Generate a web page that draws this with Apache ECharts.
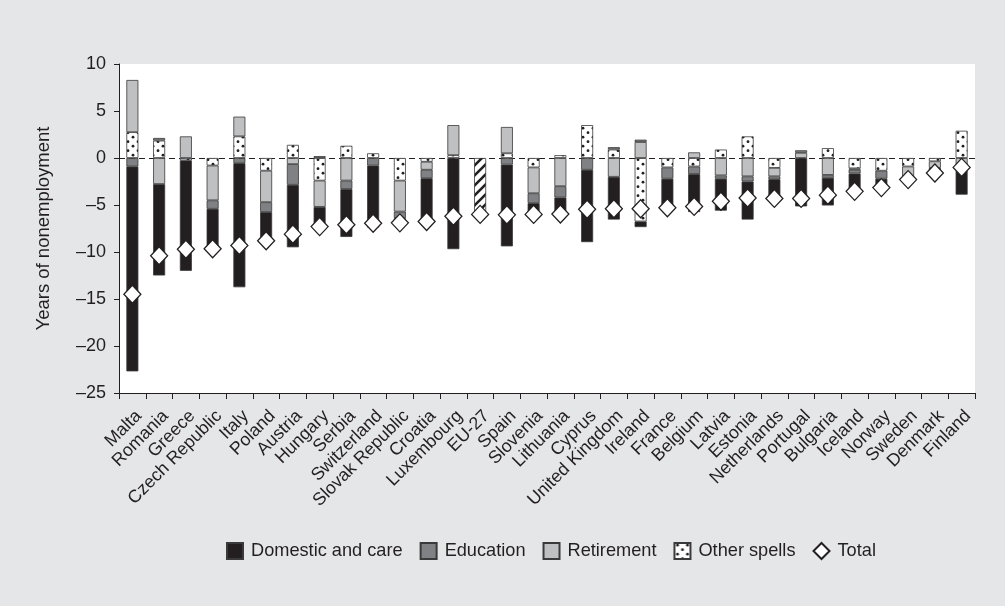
<!DOCTYPE html>
<html>
<head>
<meta charset="utf-8">
<script src="https://cdn.jsdelivr.net/npm/echarts@6/dist/echarts.min.js"></script>
<style>
  html, body { margin: 0; padding: 0; background: #e5e6e8; }
  #chart { width: 1005px; height: 606px; }
</style>
</head>
<body>
<div id="chart"></div>
<script>
const categories = ['Malta', 'Romania', 'Greece', 'Czech Republic', 'Italy', 'Poland', 'Austria', 'Hungary',
  'Serbia', 'Switzerland', 'Slovak Republic', 'Croatia', 'Luxembourg', 'EU-27', 'Spain', 'Slovenia',
  'Lithuania', 'Cyprus', 'United Kingdom', 'Ireland', 'France', 'Belgium', 'Latvia', 'Estonia',
  'Netherlands', 'Portugal', 'Bulgaria', 'Iceland', 'Norway', 'Sweden', 'Denmark', 'Finland']

// components of years of nonemployment (EU-27 only has a total, drawn hatched)
const domestic = [-21.8, -9.73, -11.75, -4.2, -13.2, -3.0, -6.65, -2.3, -5.1, -6.6, -0.5, -4.6, -9.7, null,
  -8.7, -1.2, -2.05, -7.7, -4.55, -0.6, -3.1, -4.05, -3.4, -4.05, -2.05, -5.15, -2.95, -1.9, -0.95, -0.35, -0.55, -3.2]
const education = [-0.9, 0.28, 0, -0.9, -0.55, -1.05, -2.2, 0.2, -0.9, -0.8, -0.7, -0.9, 0, null,
  -0.7, -1.05, -1.2, -1.25, 0.25, 0.25, -1.2, -0.8, -0.35, -0.55, -0.3, 0.27, -0.3, -0.4, -0.85, 0, 0, 0]
const retirement = [5.55, -2.77, 2.3, -3.7, 2.1, -3.35, -0.65, -2.8, -2.4, 0, -3.3, -0.85, 3.2, null,
  2.8, -2.75, -3.0, 0, -2.0, 1.7, 0, 0.6, -1.85, -1.95, -0.9, 0.55, -1.8, -0.15, 0, -1.05, -0.7, -0.7]
const otherSpells = [2.75, 1.85, -0.25, -0.8, 2.3, -1.35, 1.4, -2.4, 1.3, 0.5, -2.4, -0.4, 0.3, null,
  0.5, -1.0, 0.3, 3.5, 0.9, -6.75, -1.0, -0.9, 0.9, 2.3, -1.05, 0, 1.05, -1.1, -1.35, -0.9, -0.35, 2.9]
const eu27Total = -6.0
const total = [-14.5, -10.4, -9.7, -9.65, -9.3, -8.8, -8.1, -7.3, -7.1, -6.95, -6.9, -6.75, -6.2, -6.0,
  -6.05, -6.0, -5.95, -5.45, -5.4, -5.4, -5.3, -5.15, -4.6, -4.25, -4.3, -4.3, -3.95, -3.55, -3.15, -2.3, -1.6, -1.0]

const yTicks = { min: -25, max: 10, step: 5 }

const ink = '#231f20'
const font = 'Liberation Sans, Arial, sans-serif'

// white with black dots
function dotPattern() {
  const c = document.createElement('canvas')
  c.width = 10
  c.height = 9
  const ctx = c.getContext('2d')
  ctx.fillStyle = '#fff'
  ctx.fillRect(0, 0, 10, 9)
  ctx.fillStyle = ink
  ;[[3, 2.2], [8, 6.7]].forEach(p => {
    ctx.beginPath()
    ctx.arc(p[0], p[1], 1.4, 0, Math.PI * 2)
    ctx.fill()
  })
  return c
}

// white with diagonal black stripes
function hatchPattern() {
  const s = 10
  const c = document.createElement('canvas')
  c.width = s
  c.height = s
  const ctx = c.getContext('2d')
  ctx.fillStyle = '#fff'
  ctx.fillRect(0, 0, s, s)
  ctx.strokeStyle = ink
  ctx.lineWidth = 2.6
  ctx.beginPath()
  ctx.moveTo(-2, s + 2); ctx.lineTo(s + 2, -2)
  ctx.moveTo(-2, 2); ctx.lineTo(2, -2)
  ctx.moveTo(s - 2, s + 2); ctx.lineTo(s + 2, s - 2)
  ctx.stroke()
  return c
}

// zero-height parts would draw a stray border line
const clean = arr => arr.map(v => (v === 0 ? null : v))

function barSeries(name, data, color) {
  return {
    name: name,
    type: 'bar',
    stack: 'years',
    barWidth: 12,
    z: 2,
    itemStyle: { color: color, borderColor: '#3a3a3a', borderWidth: 0.8 },
    emphasis: { disabled: true },
    data: clean(data)
  }
}

const chart = echarts.init(document.getElementById('chart'))

const series = [
  barSeries('Other spells', otherSpells, { image: dotPattern(), repeat: 'repeat' }),
  barSeries('Retirement', retirement, '#bfc0c2'),
  barSeries('Education', education, '#808184'),
  barSeries('Domestic and care', domestic, ink),
  barSeries('EU-27', categories.map(c => (c === 'EU-27' ? eu27Total : null)), { image: hatchPattern(), repeat: 'repeat' }),
  {
    name: 'Total',
    type: 'scatter',
    symbol: 'diamond',
    symbolSize: [17, 18],
    z: 5,
    itemStyle: { color: '#fff', borderColor: ink, borderWidth: 1.3, opacity: 1 },
    emphasis: { disabled: true },
    data: total
  }
]
// dashed zero line, behind the bars
series[0].markLine = {
  z: 1,
  silent: true,
  symbol: 'none',
  animation: false,
  label: { show: false },
  lineStyle: { color: ink, type: [6, 4], width: 1 },
  data: [{ yAxis: 0 }]
}

const option = {
  backgroundColor: '#e5e6e8',
  animation: false,
  textStyle: { fontFamily: font, color: ink },
  grid: {
    left: 119,
    right: 30,
    top: 64,
    bottom: 213,
    show: true,
    backgroundColor: '#fff',
    borderWidth: 0
  },
  legend: {
    left: 221,
    top: 537,
    itemWidth: 16,
    itemHeight: 16,
    itemGap: 17,
    selectedMode: false,
    textStyle: { fontFamily: font, fontSize: 18.2, color: ink, padding: [0, 0, 0, 3] },
    data: [
      { name: 'Domestic and care', icon: 'rect' },
      { name: 'Education', icon: 'rect' },
      { name: 'Retirement', icon: 'rect' },
      { name: 'Other spells', icon: 'rect' },
      { name: 'Total', icon: 'diamond' }
    ]
  },
  xAxis: {
    type: 'category',
    data: categories,
    boundaryGap: true,
    axisLine: { onZero: false, lineStyle: { color: ink, width: 1 } },
    axisTick: { show: true, interval: 0, length: 6, lineStyle: { color: ink } },
    axisLabel: {
      interval: 0,
      rotate: 45,
      margin: 14,
      verticalAlign: 'top',
      fontFamily: font,
      fontSize: 17.8,
      color: ink
    },
    splitLine: { show: false }
  },
  yAxis: {
    type: 'value',
    min: yTicks.min,
    max: yTicks.max,
    interval: yTicks.step,
    name: 'Years of nonemployment',
    nameLocation: 'middle',
    nameGap: 66,
    nameTextStyle: { fontFamily: font, fontSize: 18.5, color: ink },
    axisLine: { show: true, lineStyle: { color: ink, width: 1 } },
    axisTick: { show: true, length: 5, lineStyle: { color: ink } },
    axisLabel: {
      margin: 13,
      fontFamily: font,
      fontSize: 18,
      color: ink,
      formatter: v => (v < 0 ? '\u2013' + Math.abs(v) : String(v))
    },
    splitLine: { show: false }
  },
  series: series
}

chart.setOption(option)
</script>
</body>
</html>
